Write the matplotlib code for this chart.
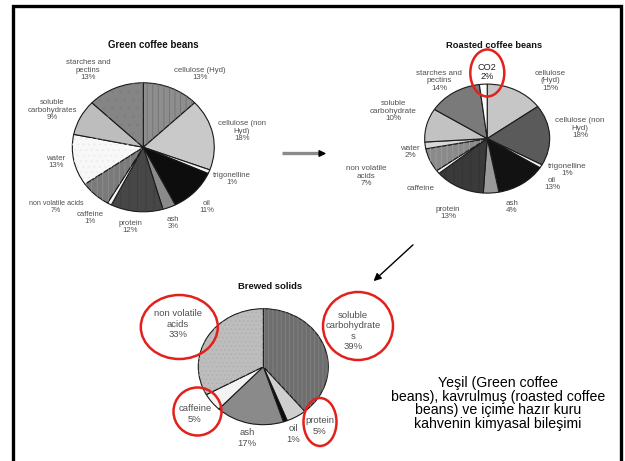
import matplotlib
matplotlib.use("Agg")
import matplotlib.pyplot as plt
from matplotlib.patches import Wedge, Ellipse

plt.rcParams["font.family"] = ["Liberation Sans", "DejaVu Sans"]
plt.rcParams["hatch.linewidth"] = 0.6

W, H = 625, 461

# ---- data: percent, clockwise from 12 o'clock ----
green_names = ["cellulose (Hyd)", "cellulose (non\nHyd)", "trigonelline", "oil", "ash",
               "protein", "caffeine", "non volatile acids", "water",
               "soluble\ncarbohydrates", "starches and\npectins"]
green_pct = [13, 18, 1, 11, 3, 12, 1, 7, 13, 9, 13]

roasted_names = ["cellulose\n(Hyd)", "cellulose (non\nHyd)", "trigonelline", "oil", "ash",
                 "protein", "caffeine", "non volatile\nacids", "water",
                 "soluble\ncarbohydrate", "starches and\npectins", "CO2"]
roasted_pct = [15, 18, 1, 13, 4, 13, 1, 7, 2, 10, 14, 2]
roasted_show_pct = [True, True, True, True, True, True, False, True, True, True, True, True]

brewed_names = ["soluble\ncarbohydrate\ns", "protein", "oil", "ash", "caffeine",
                "non volatile\nacids"]
brewed_pct = [39, 5, 1, 17, 5, 33]

caption = ("Yeşil (Green coffee\nbeans), kavrulmuş (roasted coffee\n"
           "beans) ve içime hazır kuru\nkahvenin kimyasal bileşimi")

# ---- styles ----
green_faces = ["#8e8e8e", "#c9c9c9", "#f2f2f2", "#0d0d0d", "#8a8a8a", "#474747",
               "#f5f5f5", "#7a7a7a", "#f8f8f8", "#bdbdbd", "#858585"]
green_hatch = [("|||", "#727272"), None, None, None, None, ("||", "#3e3e3e"),
               None, ("|||", "#8f8f8f"), ("...", "#ececec"), None, ("..", "#7e7e7e")]
roasted_faces = ["#c6c6c6", "#5a5a5a", "#eeeeee", "#121212", "#9a9a9a", "#3a3a3a",
                 "#f0f0f0", "#8a8a8a", "#d8d8d8", "#c2c2c2", "#7a7a7a", "#ffffff"]
roasted_hatch = [None, None, None, None, None, ("||", "#333333"), None,
                 ("|||", "#9c9c9c"), None, None, None, None]
brewed_faces = ["#6e6e6e", "#cfcfcf", "#0a0a0a", "#8a8a8a", "#f3f3f3", "#bdbdbd"]
brewed_hatch = [("||||", "#828282"), None, None, None, None, ("....", "#b0b0b0")]

# label anchor points (pixels) per slice
green_pos = [(200, 74), (242, 131), (232, 179), (207, 207), (173, 223), (130, 227),
             (90, 218), (56, 207), (56, 162), (52, 110), (88, 70)]
roasted_pos = [(550, 81), (580, 128), (567, 170), (552, 184), (512, 207), (448, 213),
               (421, 188), (366, 176), (410, 152), (393, 111), (439, 81), (487, 72)]
brewed_pos = [(353, 331), (320, 426), (293, 434), (247, 438), (195, 414), (178, 324)]

fig = plt.figure(figsize=(W / 100, H / 100), dpi=100)
fig.patch.set_facecolor("white")

PAD = 1.03


def draw_pie(cx, cy, rx, ry, pct, faces, hatches):
    ax = fig.add_axes([(cx - rx * PAD) / W, 1 - (cy + ry * PAD) / H,
                       2 * rx * PAD / W, 2 * ry * PAD / H])
    wedges, _ = ax.pie(pct, colors=faces, startangle=90, counterclock=False,
                       wedgeprops=dict(edgecolor="#1a1a1a", linewidth=0.8))
    for w, h in zip(wedges, hatches):
        if h:
            ax.add_patch(Wedge(w.center, w.r, w.theta1, w.theta2, fill=False,
                               hatch=h[0], edgecolor=h[1], linewidth=0, zorder=w.zorder + 0.1))
    ax.set_xlim(-PAD, PAD)
    ax.set_ylim(-PAD, PAD)
    ax.set_aspect("auto")
    ax.axis("off")


draw_pie(143.3, 147.3, 71, 64.5, green_pct, green_faces, green_hatch)
draw_pie(487.2, 138.6, 62.5, 54.5, roasted_pct, roasted_faces, roasted_hatch)
draw_pie(263.3, 366.7, 65, 58, brewed_pct, brewed_faces, brewed_hatch)

ov = fig.add_axes([0, 0, 1, 1])
ov.set_xlim(0, W)
ov.set_ylim(H, 0)
ov.axis("off")
ov.patch.set_visible(False)

# slide frame
ov.plot([13, 13, 620.5, 620.5], [H + 5, 6, 6, H + 5], color="black", lw=2.4,
        solid_joinstyle="miter", clip_on=False)

lab = dict(ha="center", va="center", color="#505050", linespacing=1.15)

ov.text(153, 45, "Green coffee beans", ha="center", va="center", fontsize=7,
        fontweight="bold", color="#111111")
for (x, y), name, p in zip(green_pos, green_names, green_pct):
    fs = 5.1 if name == "non volatile acids" else 5.6
    ov.text(x, y, f"{name}\n{p}%", fontsize=fs, **lab)

ov.text(494, 45, "Roasted coffee beans", ha="center", va="center", fontsize=6.7,
        fontweight="bold", color="#111111")
for (x, y), name, p, show in zip(roasted_pos, roasted_names, roasted_pct, roasted_show_pct):
    txt = f"{name}\n{p}%" if show else name
    if name == "CO2":
        ov.text(x, y, txt, fontsize=6.6, ha="center", va="center", color="#222222",
                linespacing=1.05)
    else:
        ov.text(x, y, txt, fontsize=5.8, **lab)

ov.text(270, 286, "Brewed solids", ha="center", va="center", fontsize=6.8,
        fontweight="bold", color="#111111")
for (x, y), name, p in zip(brewed_pos, brewed_names, brewed_pct):
    ov.text(x, y, f"{name}\n{p}%", fontsize=6.8, **lab)

# red highlight ellipses
red = "#e3211c"
for (x, y, w, h) in [(487.3, 73, 34, 47), (179.3, 327, 77, 64), (358, 326, 70, 68),
                     (197.5, 411.5, 48, 48), (320, 422, 33, 48)]:
    ov.add_patch(Ellipse((x, y), w, h, fill=False, edgecolor=red, lw=1.8))

# arrows
ov.plot([282, 322], [153.5, 153.5], color="#8a8a8a", lw=2.4, solid_capstyle="butt")
ov.annotate("", xy=(329, 153.5), xytext=(320, 153.5),
            arrowprops=dict(arrowstyle="-|>", color="black", lw=1, mutation_scale=10))
ov.annotate("", xy=(371.5, 283), xytext=(415, 243),
            arrowprops=dict(arrowstyle="-|>", color="black", lw=1, mutation_scale=11))

ov.text(498, 403.5, caption, ha="center", va="center", fontsize=10.2, color="black",
        linespacing=0.97)

fig.savefig("out.png", dpi=100)
